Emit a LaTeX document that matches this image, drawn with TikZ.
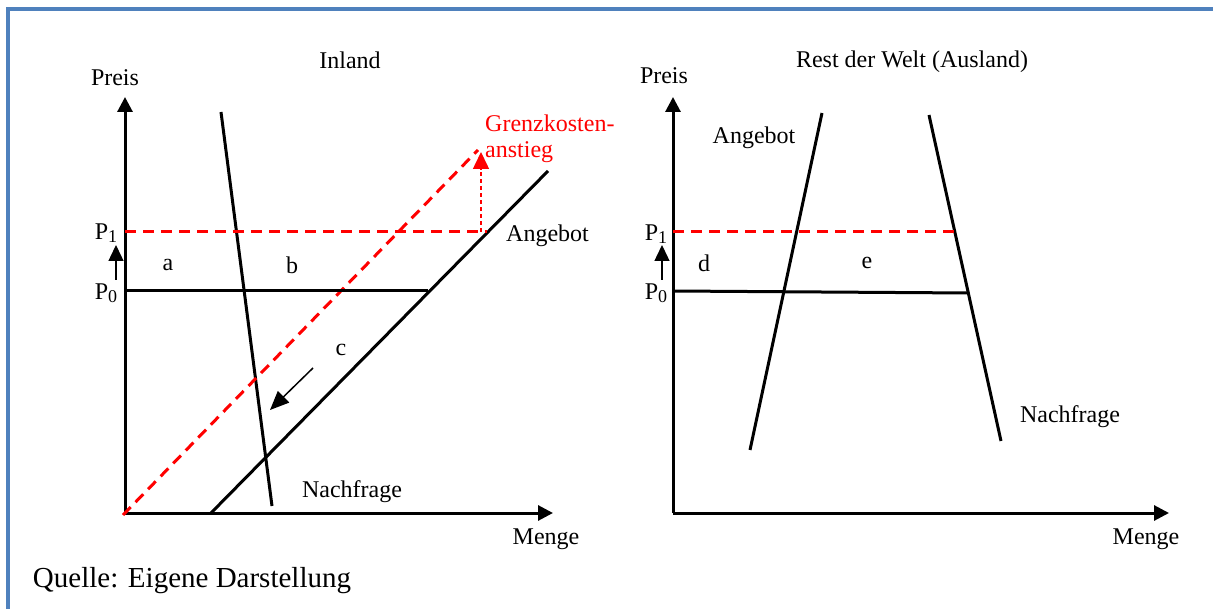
\documentclass[tikz,border=0pt]{standalone}
\usepackage{fontspec}
\setmainfont{Liberation Serif}
\usetikzlibrary{arrows.meta}
\definecolor{frameblue}{RGB}{79,129,189}
\definecolor{gkred}{RGB}{255,0,0}
\newcommand{\Psub}[1]{P\raisebox{-0.28ex}{\fontsize{18}{18}\selectfont #1}}
\begin{document}
\begin{tikzpicture}[x=1pt,y=-1pt,
  lbl/.style={inner sep=0pt, font=\fontsize{24}{28}\selectfont},
  axisline/.style={line width=3pt, -{Triangle[length=15pt,width=15pt]}},
  curveline/.style={line width=3pt},
  rdash/.style={line width=3pt, gkred, dash pattern=on 11pt off 7pt},
  rdot/.style={line width=1.5pt, gkred, dash pattern=on 4pt off 3pt, -{Triangle[length=17pt,width=16pt]}},
  smallarrow/.style={line width=1.4pt, -{Triangle[length=16pt,width=15pt]}},
  shiftarrow/.style={line width=1.5pt, -{Triangle[length=19pt,width=16pt]}}
]
\useasboundingbox (0,0) rectangle (1213,609);
\fill[white] (0,0) rectangle (1213,609);
\draw[frameblue, line width=3.5pt] (8,9) rectangle (1240,640);

% ---------- left panel: Inland ----------
\coordinate (LO) at (125,513);
\coordinate (LY) at (125,97);
\coordinate (LX) at (553,513);
\draw[axisline] (LO) -- (LY);
\draw[axisline] (LO) -- (LX);

\coordinate (LDtop) at (221,112);
\coordinate (LDbot) at (272,506);
\draw[curveline] (LDtop) -- (LDbot);

\coordinate (LSbot) at (211,513);
\coordinate (LStop) at (548,171);
\draw[curveline] (LSbot) -- (LStop);

\coordinate (LRbot) at (123,515);
\coordinate (LRtop) at (478,150);
\draw[rdash] (LRbot) -- (LRtop);

\coordinate (LP1a) at (125,232);
\coordinate (LP1b) at (487,232);
\draw[rdash] (LP1a) -- (LP1b);

\coordinate (LP0a) at (125,291);
\coordinate (LP0b) at (428,291);
\draw[curveline] (LP0a) -- (LP0b);

\coordinate (GKa) at (481,232);
\coordinate (GKb) at (481,152);
\draw[rdot] (GKa) -- (GKb);

\coordinate (LPa) at (116,280);
\coordinate (LPb) at (116,245);
\draw[smallarrow] (LPa) -- (LPb);

\coordinate (Ca) at (313,368);
\coordinate (Cb) at (270,410);
\draw[shiftarrow] (Ca) -- (Cb);

\node[lbl] (preisL) at (115,78) {Preis};
\node[lbl] (inland) at (350,60) {Inland};
\node[lbl] (p1L) at (106,233) {\Psub{1}};
\node[lbl] (p0L) at (106,293) {\Psub{0}};
\node[lbl] (a) at (168,265) {a};
\node[lbl] (b) at (292,265) {b};
\node[lbl] (c) at (341,350) {c};
\node[lbl, gkred, anchor=west] (gk1) at (485,123) {Grenzkosten-};
\node[lbl, gkred, anchor=west] (gk2) at (485,152) {anstieg};
\node[lbl, anchor=west] (angL) at (506,236) {Angebot};
\node[lbl] (nachL) at (352,492) {Nachfrage};
\node[lbl] (mengeL) at (546,539) {Menge};

% ---------- right panel: Ausland ----------
\coordinate (RO) at (673,513);
\coordinate (RY) at (673,97);
\coordinate (RX) at (1169,513);
\draw[axisline] (RO) -- (RY);
\draw[axisline] (RO) -- (RX);

\coordinate (RSbot) at (750,450);
\coordinate (RStop) at (822,113);
\draw[curveline] (RSbot) -- (RStop);

\coordinate (RDtop) at (929,115);
\coordinate (RDbot) at (1001,441);
\draw[curveline] (RDtop) -- (RDbot);

\coordinate (RP1a) at (673,232);
\coordinate (RP1b) at (956,232);
\draw[rdash] (RP1a) -- (RP1b);

\coordinate (RP0a) at (673,291);
\coordinate (RP0b) at (969,293);
\draw[curveline] (RP0a) -- (RP0b);

\coordinate (RPa) at (662,280);
\coordinate (RPb) at (662,245);
\draw[smallarrow] (RPa) -- (RPb);

\node[lbl] (preisR) at (664,76) {Preis};
\node[lbl] (welt) at (912,62) {Rest der Welt (Ausland)};
\node[lbl] (p1R) at (656,234) {\Psub{1}};
\node[lbl] (p0R) at (656,293) {\Psub{0}};
\node[lbl] (d) at (704,263) {d};
\node[lbl] (e) at (867,263) {e};
\node[lbl] (angR) at (754,138) {Angebot};
\node[lbl] (nachR) at (1070,417) {Nachfrage};
\node[lbl] (mengeR) at (1146,539) {Menge};

\node[inner sep=0pt, font=\fontsize{29}{33}\selectfont] (quelle) at (192,581) {Quelle: Eigene Darstellung};
\end{tikzpicture}
\end{document}
